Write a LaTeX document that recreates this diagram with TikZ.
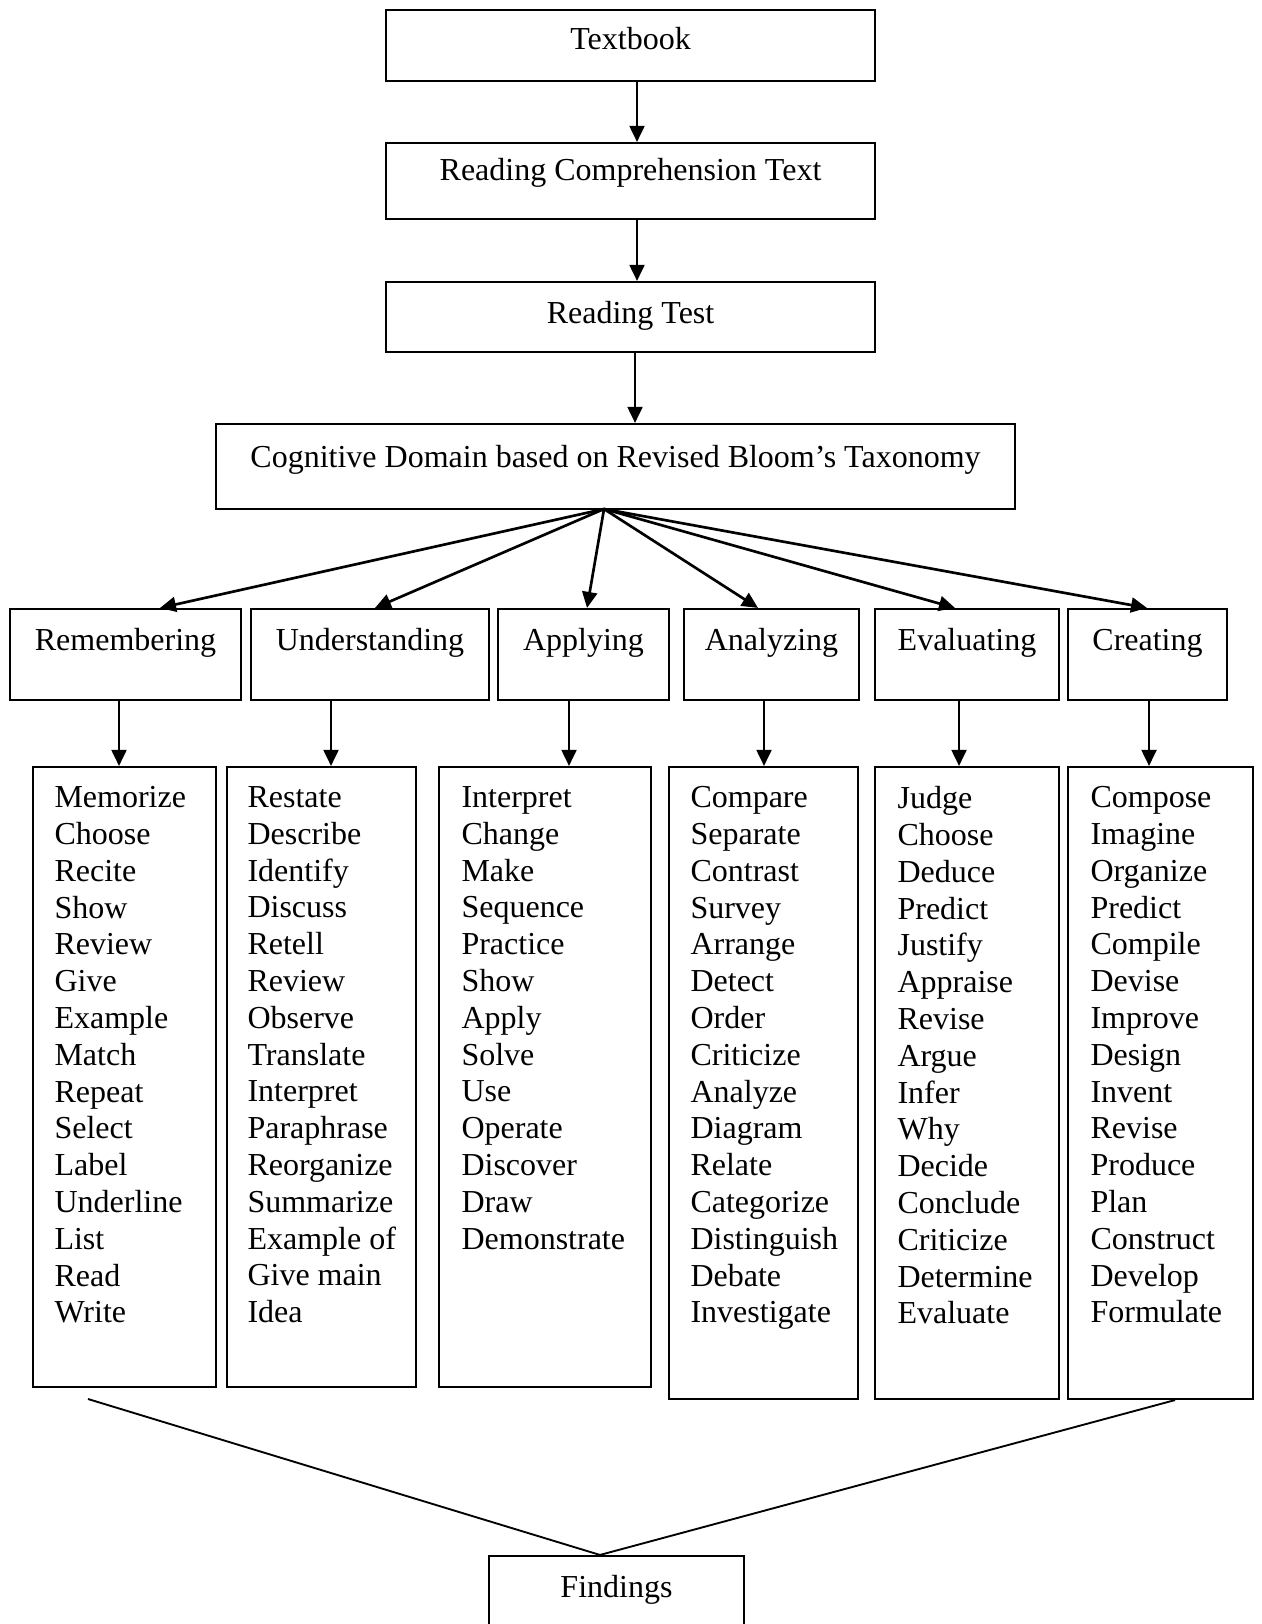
\documentclass[tikz,border=0pt]{standalone}
\usepackage{fontspec}
\setmainfont{Liberation Serif}
\usetikzlibrary{arrows.meta,fit}
\begin{document}
\begin{tikzpicture}[x=0.375pt,y=-0.375pt,
 box/.style={draw,line width=0.8pt,inner sep=0pt,rectangle},
 lbl/.style={font=\fontsize{12}{13.8}\selectfont,anchor=base,inner sep=0pt},
 lst/.style={font=\fontsize{12}{13.8}\selectfont,anchor=north west,align=left,inner sep=0pt},
 arr/.style={line width=0.8pt,-{Triangle[length=6pt,width=5.6pt]}},
 fanarr/.style={line width=1pt,-{Triangle[length=6pt,width=5.6pt]}},
 ln/.style={line width=0.7pt}]
\useasboundingbox (0,0) rectangle (1261,1624);
% top chain
\node[box,fit={(386,10)(875,81)}] (tb) {};
\node[lbl] (tbt) at (630.5,50) {Textbook};
\node[box,fit={(386,143)(875,219)}] (rct) {};
\node[lbl] (rctt) at (630.5,181) {Reading Comprehension Text};
\node[box,fit={(386,282)(875,352)}] (rt) {};
\node[lbl] (rtt) at (630.5,324) {Reading Test};
\node[box,fit={(216,424)(1015,509)}] (cog) {};
\node[lbl] (cogt) at (615.5,468) {Cognitive Domain based on Revised Bloom’s Taxonomy};
\coordinate (xa) at (637,0);
\coordinate (xb) at (635,0);
\draw[arr] (tb.south -| xa) -- (rct.north -| xa);
\draw[arr] (rct.south -| xa) -- (rt.north -| xa);
\draw[arr] (rt.south -| xb) -- (cog.north -| xb);
% categories
\node[box,fit={(10,609)(241,700)}] (c1) {};
\node[box,fit={(251,609)(489,700)}] (c2) {};
\node[box,fit={(498,609)(669,700)}] (c3) {};
\node[box,fit={(684,609)(859,700)}] (c4) {};
\node[box,fit={(875,609)(1059,700)}] (c5) {};
\node[box,fit={(1068,609)(1227,700)}] (c6) {};
\node[lbl] (c1t) at (c1.center |- 0,651) {Remembering};
\node[lbl] (c2t) at (c2.center |- 0,651) {Understanding};
\node[lbl] (c3t) at (c3.center |- 0,651) {Applying};
\node[lbl] (c4t) at (c4.center |- 0,651) {Analyzing};
\node[lbl] (c5t) at (c5.center |- 0,651) {Evaluating};
\node[lbl] (c6t) at (c6.center |- 0,651) {Creating};
% fan
\coordinate (fan) at (604,509);
\coordinate (f1) at (160,0);
\coordinate (f2) at (375,0);
\coordinate (f3) at (587,0);
\coordinate (f4) at (758,0);
\coordinate (f5) at (955,0);
\coordinate (f6) at (1147,0);
\draw[fanarr] (fan) -- (c1.north -| f1);
\draw[fanarr] (fan) -- (c2.north -| f2);
\draw[fanarr] (fan) -- (c3.north -| f3);
\draw[fanarr] (fan) -- (c4.north -| f4);
\draw[fanarr] (fan) -- (c5.north -| f5);
\draw[fanarr] (fan) -- (c6.north -| f6);
% lists
\node[box,fit={(33,767)(216,1387)}] (l1) {};
\node[box,fit={(227,767)(416,1387)}] (l2) {};
\node[box,fit={(439,767)(651,1387)}] (l3) {};
\node[box,fit={(669,767)(858,1399)}] (l4) {};
\node[box,fit={(875,767)(1059,1399)}] (l5) {};
\node[box,fit={(1068,767)(1253,1399)}] (l6) {};
\coordinate (d1) at (119,0);
\coordinate (d2) at (331,0);
\coordinate (d3) at (569,0);
\coordinate (d4) at (764,0);
\coordinate (d5) at (959,0);
\coordinate (d6) at (1149,0);
\draw[arr] (c1.south -| d1) -- (l1.north -| d1);
\draw[arr] (c2.south -| d2) -- (l2.north -| d2);
\draw[arr] (c3.south -| d3) -- (l3.north -| d3);
\draw[arr] (c4.south -| d4) -- (l4.north -| d4);
\draw[arr] (c5.south -| d5) -- (l5.north -| d5);
\draw[arr] (c6.south -| d6) -- (l6.north -| d6);
\node[lst] (l1t) at (54,786) {Memorize\\Choose\\Recite\\Show\\Review\\Give\\Example\\Match\\Repeat\\Select\\Label\\Underline\\List\\Read\\Write};
\node[lst] (l2t) at (247,786) {Restate\\Describe\\Identify\\Discuss\\Retell\\Review\\Observe\\Translate\\Interpret\\Paraphrase\\Reorganize\\Summarize\\Example of\\Give main\\Idea};
\node[lst] (l3t) at (461,786) {Interpret\\Change\\Make\\Sequence\\Practice\\Show\\Apply\\Solve\\Use\\Operate\\Discover\\Draw\\Demonstrate};
\node[lst] (l4t) at (690,786) {Compare\\Separate\\Contrast\\Survey\\Arrange\\Detect\\Order\\Criticize\\Analyze\\Diagram\\Relate\\Categorize\\Distinguish\\Debate\\Investigate};
\node[lst] (l5t) at (897,786) {Judge\\Choose\\Deduce\\Predict\\Justify\\Appraise\\Revise\\Argue\\Infer\\Why\\Decide\\Conclude\\Criticize\\Determine\\Evaluate};
\node[lst] (l6t) at (1090,786) {Compose\\Imagine\\Organize\\Predict\\Compile\\Devise\\Improve\\Design\\Invent\\Revise\\Produce\\Plan\\Construct\\Develop\\Formulate};
% findings
\node[box,fit={(489,1556)(744,1650)}] (fd) {};
\node[lbl] (fdt) at (616.5,1597) {Findings};
\coordinate (fl) at (88,1399);
\coordinate (fx) at (600,0);
\coordinate (fr) at (1175,0);
\draw[ln] (fl) -- (fd.north -| fx);
\draw[ln] (l6.south -| fr) -- (fd.north -| fx);
\end{tikzpicture}
\end{document}
